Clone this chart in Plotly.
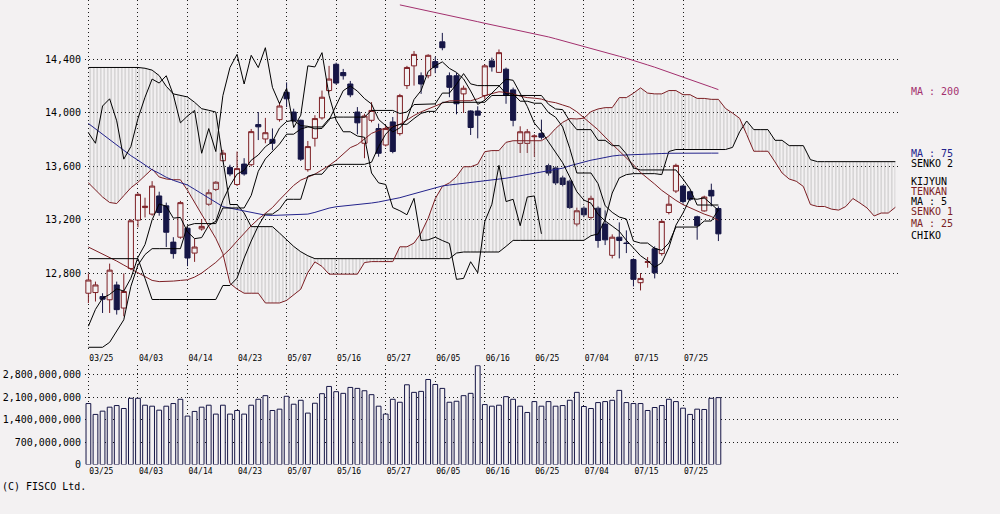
import plotly.graph_objects as go

# ---------------- data ----------------
dates = ["03/25","03/26","03/27","03/28","03/31",
 "04/01","04/02","04/03","04/04","04/07","04/08","04/09","04/10","04/11","04/14","04/15","04/16","04/17","04/18","04/21","04/22","04/23","04/24","04/25","04/28","04/30",
 "05/01","05/02","05/07","05/08","05/09","05/12","05/13","05/14","05/15","05/16","05/19","05/20","05/21","05/22","05/23","05/26","05/27","05/28","05/29","05/30",
 "06/02","06/03","06/04","06/05","06/06","06/09","06/10","06/11","06/12","06/13","06/16","06/17","06/18","06/19","06/20","06/23","06/24","06/25","06/26","06/27","06/30",
 "07/01","07/02","07/03","07/04","07/07","07/08","07/09","07/10","07/11","07/14","07/15","07/16","07/17","07/18","07/22","07/23","07/24","07/25","07/28","07/29","07/30","07/31",
 "08/01"]

open_ = [12649,12654,12624,12600,12711,12538,12834,13197,13291,13242,13378,13304,13032,13069,13136,12950,13131,13316,13427,13642,
         13592,13464,13617,13612,13913,13805,13802,13950,14155,14007,13945,13575,13810,13963,14168,14365,14303,14217,14007,13773,
         13945,13883,13760,13933,13845,14205,14353,14279,14279,14385,14533,14279,14279,14143,14015,14015,14131,14390,14304,14328,
         14173,13772,13772,13822,13847,13605,13588,13513,13489,13168,13286,13217,13286,13168,12933,13069,13025,12901,12728,12880,
         12982,12946,13254,13415,13452,13410,13222,13266,13420,13284]
high = [12797,12736,12649,12871,12736,12797,13205,13402,13365,13489,13410,13328,13069,13341,13148,13057,13205,13427,13489,13723,
        13612,13711,13661,13880,14007,13963,13884,14081,14229,14032,13950,13790,13983,14168,14353,14377,14330,14240,14044,13994,
        14081,13920,13908,13970,14143,14353,14464,14304,14440,14420,14600,14304,14300,14205,14020,14050,14365,14415,14476,14340,
        14190,13900,13880,13840,13950,13620,13600,13530,13500,13290,13300,13380,13300,13270,13090,13180,13120,12910,12800,12920,
        13000,13200,13380,13620,13460,13420,13230,13380,13470,13300]
low = [12575,12587,12501,12501,12489,12476,12822,13143,13217,13230,13230,12995,12908,13057,12852,12884,13118,13304,13415,13637,
       13526,13452,13530,13600,13797,13773,13723,13935,14044,13930,13640,13560,13748,13950,14155,14212,14250,14118,13840,13661,
       13930,13672,13748,13698,13830,14180,14205,14143,14260,14298,14470,14118,13990,14000,13835,13810,14100,14310,14300,14069,
       13900,13700,13700,13670,13800,13530,13460,13450,13280,13150,13220,13200,12990,13010,12910,12910,12950,12700,12670,12840,
       12760,12930,13240,13400,13320,13340,13050,13260,13300,13040]
close = [12748,12711,12604,12822,12526,12662,13192,13390,13301,13452,13254,13106,12946,13328,12913,12995,13150,13402,13481,13699,
         13543,13583,13543,13860,13896,13852,13773,14052,14106,13941,13654,13748,13958,14118,14254,14224,14279,14136,13926,13977,
         14019,13698,13883,13711,14130,14341,14439,14217,14432,14340,14489,14192,14069,14185,13891,13983,14353,14345,14452,14131,
         13945,13859,13859,13827,13818,13550,13476,13464,13291,13267,13237,13360,13044,13049,13069,13044,13022,12753,12760,12885,
         12802,13187,13316,13607,13336,13353,13155,13370,13378,13094]

volume = [1.905e9,1.565e9,1.667e9,1.791e9,1.842e9,1.750e9,2.069e9,2.069e9,1.853e9,1.822e9,
          1.698e9,1.822e9,1.905e9,2.038e9,1.513e9,1.658e9,1.791e9,1.853e9,1.575e9,1.853e9,
          1.575e9,1.688e9,1.575e9,1.853e9,2.038e9,2.151e9,1.688e9,1.729e9,2.131e9,1.884e9,
          2.007e9,1.606e9,1.914e9,2.213e9,2.439e9,2.275e9,2.223e9,2.408e9,2.378e9,2.305e9,
          2.182e9,1.822e9,1.575e9,2.038e9,1.945e9,2.491e9,2.254e9,2.285e9,2.656e9,2.501e9,
          2.378e9,1.945e9,1.976e9,2.151e9,2.223e9,3.088e9,1.873e9,1.822e9,1.853e9,2.120e9,
          2.038e9,1.822e9,1.626e9,1.966e9,1.822e9,1.966e9,1.822e9,1.842e9,2.007e9,2.254e9,
          1.812e9,1.750e9,1.935e9,1.966e9,2.007e9,2.316e9,1.935e9,1.905e9,1.905e9,1.688e9,
          1.781e9,1.842e9,2.038e9,1.966e9,1.760e9,1.565e9,1.729e9,1.719e9,2.069e9,2.090e9]

ma5 = [12402,12528,12612,12640,12682,12665,12761,12918,13014,13199,13318,13301,13212,13217,13109,13058,13066,13158,13188,13345,
       13455,13542,13570,13646,13685,13747,13785,13887,13936,13945,13905,13900,13881,13884,13946,14060,14167,14202,14164,14108,
       14067,13951,13901,13858,13888,13953,14101,14168,14312,14354,14383,14334,14304,14255,14165,14064,14096,14151,14205,14253,
       14245,14146,14049,13924,13862,13783,13706,13627,13520,13410,13347,13324,13240,13191,13152,13113,13046,12987,12930,12893,
       12844,12877,12990,13159,13250,13360,13353,13364,13318,13270]

ma25 = [12995,12970,12945,12921,12890,12860,12830,12800,12770,12745,12736,12736,12740,12745,12750,12770,12800,12840,12880,12930,
        12980,13040,13100,13155,13204,13248,13291,13349,13400,13457,13497,13519,13541,13574,13606,13645,13692,13740,13763,13806,
        13847,13869,13888,13897,13915,13947,13981,14008,14031,14048,14074,14091,14091,14094,14092,14106,14130,14145,14159,14154,
        14143,14126,14115,14111,14104,14086,14077,14060,14043,14009,13964,13921,13874,13819,13768,13710,13664,13611,13554,13514,
        13467,13420,13379,13345,13313,13289,13261,13242,13224,13195]

ma75 = [13921,13880,13838,13797,13755,13720,13680,13646,13610,13574,13548,13518,13495,13478,13460,13428,13395,13360,13326,13298,
        13287,13276,13266,13255,13241,13234,13232,13233,13235,13236,13238,13242,13255,13271,13287,13297,13302,13308,13313,13318,
        13325,13333,13342,13352,13365,13380,13394,13409,13424,13439,13453,13460,13466,13472,13478,13484,13490,13496,13502,13511,
        13520,13530,13539,13548,13558,13567,13576,13586,13604,13619,13634,13646,13656,13667,13677,13683,13686,13688,13690,13692,
        13694,13696,13698,13699,13699,13699,13699,13699,13699,13699]

ma200_start = 44
ma200 = [14810,14799,14787,14776,14764,14753,14741,14730,14718,14707,14695,14684,14672,14661,14650,14640,14629,14619,14608,14597,
         14584,14570,14556,14542,14528,14514,14500,14485,14470,14455,14440,14425,14410,14395,14378,14360,14343,14325,14307,14289,
         14270,14251,14232,14213,14194,14175]

tenkan = [12244,12244,12244,12281,12370,12450,12700,12860,12939,12983,12983,12983,12983,12983,13156,13171,13171,13171,13171,13288,
          13288,13288,13288,13382,13563,13656,13711,13767,13841,13841,13880,13895,13895,13895,13957,13969,13969,13969,13969,13969,
          14019,14019,14019,14019,13996,14007,14063,14063,14068,14068,14149,14149,14215,14295,14218,14205,14205,14205,14205,14143,
          14143,14088,14088,14073,14073,14003,13968,13895,13735,13550,13550,13550,13470,13305,13255,13220,13205,13040,13025,13025,
          12985,12970,13025,13145,13145,13145,13145,13190,13190,13275]

kijun = [12908,12908,12908,12908,12908,12908,12908,12908,12760,12602,12602,12602,12602,12602,12602,12602,12602,12602,12602,12707,
         12707,12762,12912,13040,13154,13242,13242,13279,13353,13353,13353,13526,13541,13541,13603,13615,13615,13615,13615,13615,
         13631,13748,13841,13896,13915,13915,13958,13997,14012,14012,14080,14080,14080,14080,14080,14080,14080,14131,14131,14131,
         14131,14131,14131,14131,14131,14065,14030,14025,13940,13875,13875,13875,13795,13795,13755,13755,13693,13588,13573,13573,
         13573,13573,13573,13573,13505,13430,13310,13310,13310,13310]

senko1 = [13476,13420,13370,13329,13321,13380,13439,13480,13530,13580,13520,13505,13500,13499,13420,13330,13230,13140,13060,12945,
          12723,12680,12649,12649,12649,12576,12576,12576,12595,12639,12679,12804,12884,12850,12792,12792,12792,12792,12792,12879,
          12886,12886,12886,12886,12997,12997,13025,13100,13211,13358,13449,13476,13523,13597,13597,13616,13710,13718,13718,13780,
          13792,13792,13792,13792,13792,13825,13883,13930,13958,13955,13961,14010,14030,14040,14040,14115,14115,14148,14188,14149,
          14143,14143,14168,14168,14137,14137,14109,14109,14102,14102,14034,13999,13960,13838,13713,13713,13713,13633,13550,13505,
          13488,13449,13314,13299,13299,13279,13272,13299,13359,13325,13288,13228,13250,13250,13293]

senko2 = [14341,14341,14341,14341,14341,14341,14341,14341,14335,14321,14280,14200,14143,14130,14120,14080,14032,14020,14007,13650,
          13314,13314,13250,13148,13148,13148,13148,13100,13050,13000,12960,12930,12908,12908,12908,12908,12908,12908,12908,12908,
          12908,12908,12908,12908,12908,12908,12908,12908,12908,12908,12908,12908,12950,12958,12958,12958,12958,12958,12958,13000,
          13045,13045,13045,13045,13045,13045,13045,13045,13045,13045,13045,13080,13093,13200,13400,13513,13538,13545,13545,13545,
          13545,13538,13711,13726,13726,13726,13726,13726,13726,13726,13726,13742,13859,13940,13875,13875,13875,13795,13795,13755,
          13755,13755,13650,13635,13635,13635,13635,13635,13635,13635,13635,13635,13635,13635,13635]

chiko_shift = 25
price_ticks = [12800, 13200, 13600, 14000, 14400]
volume_ticks = [0, 700000000, 1400000000, 2100000000, 2800000000]

# ---------------- style ----------------
BG = "#f3f1f2"
MAROON = "#7d1f24"
NAVY = "#161646"
BLUE = "#23238c"
PURPLE = "#a3306e"
FONT = "DejaVu Sans Mono"

n = len(close)
idx = list(range(n))
idx_ext = list(range(len(senko1)))
tick_idx = list(range(0, n, 7))
tick_txt = [dates[i] for i in tick_idx]

fig = go.Figure()

# cloud (kumo)
fig.add_trace(go.Scatter(x=idx_ext, y=senko2, mode="lines", line=dict(color="#000000", width=1),
                         xaxis="x", yaxis="y", hoverinfo="skip"))
fig.add_trace(go.Scatter(x=idx_ext, y=senko1, mode="lines", line=dict(color=MAROON, width=1),
                         fill="tonexty", fillcolor="rgba(0,0,0,0)",
                         fillpattern=dict(shape="|", fgcolor="#8e8e8e", size=3.5, solidity=0.28),
                         xaxis="x", yaxis="y", hoverinfo="skip"))

# candles
fig.add_trace(go.Candlestick(x=idx, open=open_, high=high, low=low, close=close,
                             increasing=dict(line=dict(color=MAROON, width=1), fillcolor=BG),
                             decreasing=dict(line=dict(color=NAVY, width=1), fillcolor=NAVY),
                             whiskerwidth=0, xaxis="x", yaxis="y", hoverinfo="skip"))

# lines
fig.add_trace(go.Scatter(x=list(range(ma200_start, ma200_start + len(ma200))), y=ma200, mode="lines",
                         line=dict(color=PURPLE, width=1)))
fig.add_trace(go.Scatter(x=idx, y=ma75, mode="lines", line=dict(color=BLUE, width=1)))
fig.add_trace(go.Scatter(x=idx, y=ma25, mode="lines", line=dict(color=MAROON, width=1)))
fig.add_trace(go.Scatter(x=idx, y=kijun, mode="lines", line=dict(color="#000000", width=1)))
fig.add_trace(go.Scatter(x=idx, y=tenkan, mode="lines", line=dict(color="#000000", width=1)))
fig.add_trace(go.Scatter(x=idx, y=ma5, mode="lines", line=dict(color="#000000", width=1)))
chiko = close[chiko_shift:]
fig.add_trace(go.Scatter(x=list(range(len(chiko))), y=chiko, mode="lines", line=dict(color="#000000", width=1)))

# volume
fig.add_trace(go.Bar(x=idx, y=volume, marker=dict(color=BG, line=dict(color=NAVY, width=1)),
                     xaxis="x2", yaxis="y2", hoverinfo="skip"))

W, H = 1000, 514          # all positions below are pixel rows from the top
x0, x1 = 85, 898
px_per_day = 7.0786
first_px = 88.4
xr = [-(first_px - x0) / px_per_day, (x1 - first_px) / px_per_day]

def py(ypx):
    return 1 - ypx / H

grid = dict(showgrid=True, gridcolor="#1a1a1a", gridwidth=1, griddash="1px,3px",
            zeroline=False, showline=False, ticks="")

fig.update_layout(
    width=W, height=H, margin=dict(l=0, r=0, t=0, b=0),
    paper_bgcolor=BG, plot_bgcolor=BG, showlegend=False,
    boxgap=0.28, boxgroupgap=0, bargap=0.33,
    font=dict(family=FONT, color="#000000", size=10),
    xaxis=dict(domain=[x0 / W, x1 / W], range=xr, anchor="y", tickmode="array",
               tickvals=tick_idx, ticktext=tick_txt, tickfont=dict(size=8, family=FONT),
               ticklabelshift=13, rangeslider=dict(visible=False), **grid),
    yaxis=dict(domain=[py(356), 1], range=[12209.7, 14846.6], anchor="x",
               tickmode="array", tickvals=price_ticks, tickformat=",d",
               tickfont=dict(size=10, family=FONT), ticklabelstandoff=3, **grid),
    xaxis2=dict(domain=[x0 / W, x1 / W], range=xr, anchor="y2", matches="x", tickmode="array",
                tickvals=tick_idx, ticktext=tick_txt, tickfont=dict(size=8, family=FONT),
                ticklabelshift=13, **grid),
    yaxis2=dict(domain=[py(470), py(369.6)], range=[0, 3.1e9], anchor="x2",
                tickmode="array", tickvals=volume_ticks, tickformat=",d",
                tickfont=dict(size=10, family=FONT), ticklabelstandoff=3, **grid),
)

labels = [
    ("MA : 200", 93, PURPLE),
    ("MA : 75", 155, BLUE),
    ("SENKO 2", 165, "#000000"),
    ("KIJYUN", 184, "#000000"),
    ("TENKAN", 194, MAROON),
    ("MA : 5", 204, "#000000"),
    ("SENKO 1", 214, MAROON),
    ("MA : 25", 226, MAROON),
    ("CHIKO", 238, "#000000"),
]
for txt, ypx, col in labels:
    fig.add_annotation(x=909 / W, xref="paper", y=py(ypx), yref="paper", text=txt, showarrow=False,
                       xanchor="left", yanchor="middle",
                       font=dict(family=FONT, size=10, color=col))

fig.add_annotation(x=0, xref="paper", y=py(492), yref="paper", text="(C) FISCO Ltd.",
                   showarrow=False, xanchor="left", yanchor="middle",
                   font=dict(family=FONT, size=10, color="#000000"))

fig.write_html("out.html")
